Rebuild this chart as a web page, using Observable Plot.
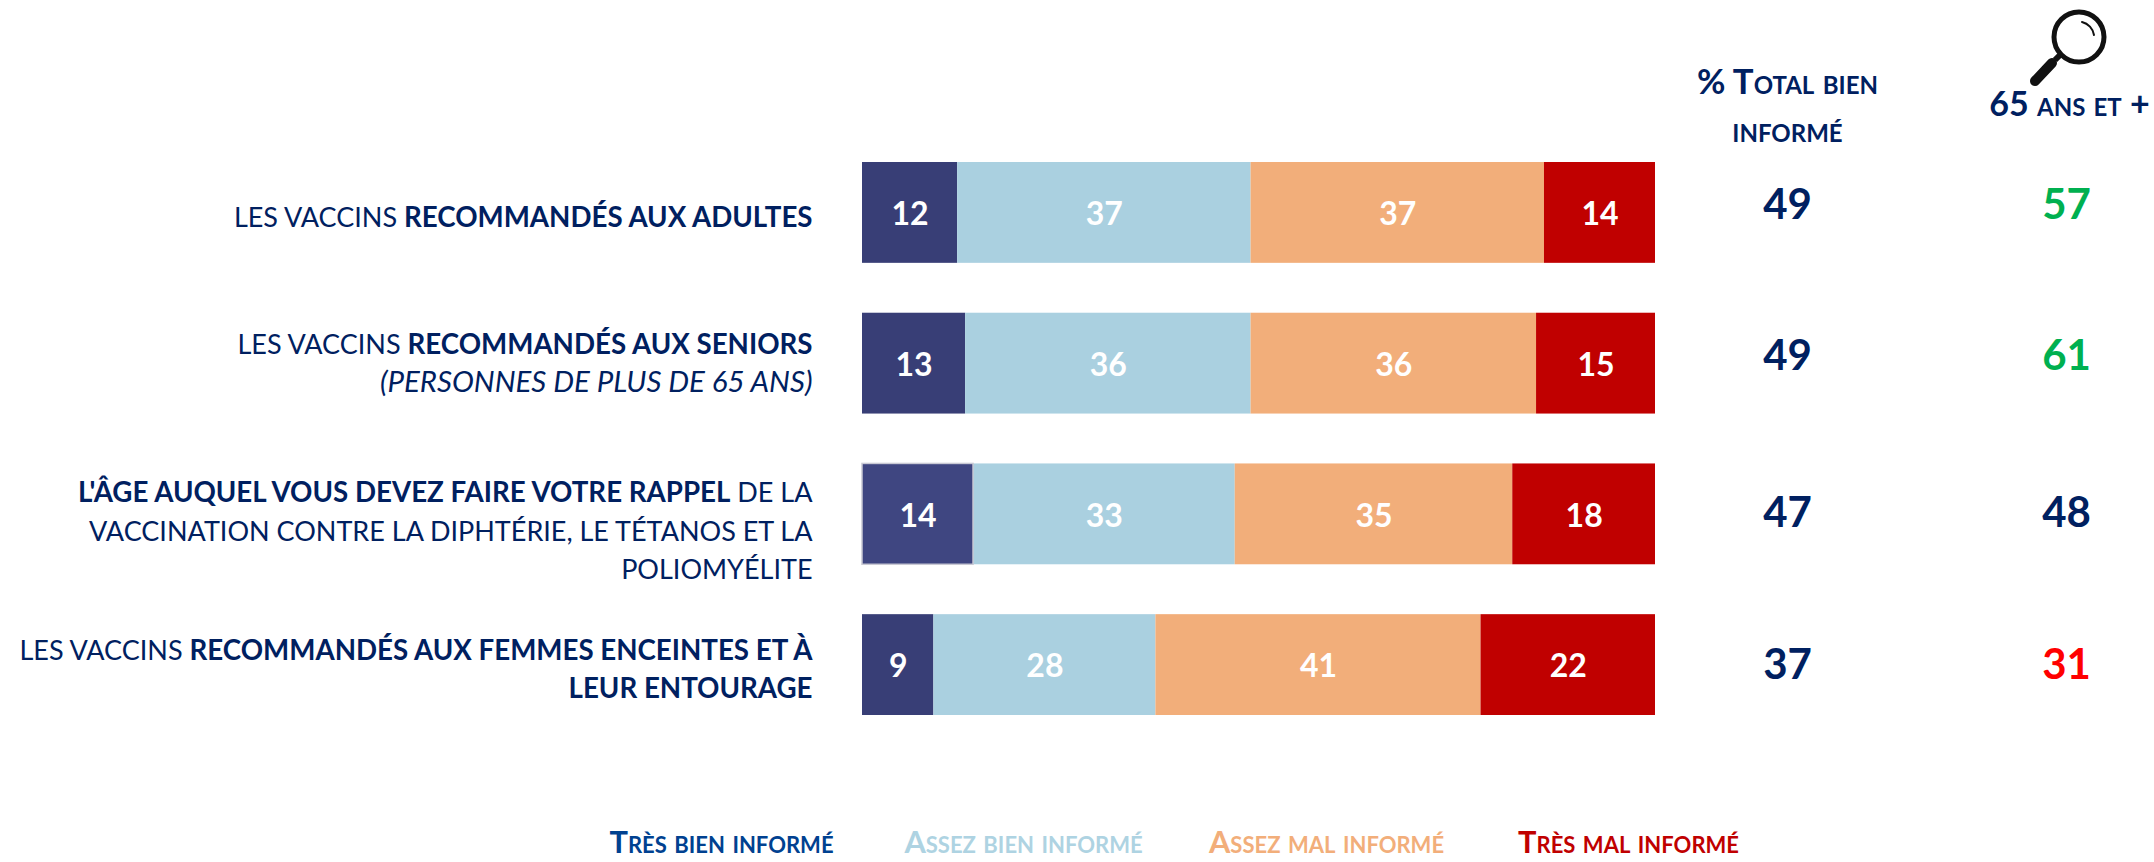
<!DOCTYPE html>
<html><head><meta charset="utf-8">
<script src="https://cdn.jsdelivr.net/npm/d3@7"></script>
<script src="https://cdn.jsdelivr.net/npm/@observablehq/plot@0.6"></script>
<style>html,body{margin:0;padding:0;background:#fff}svg{display:block}</style>
</head><body><div id="chart"></div>
<script>
const rows = ["adultes","seniors","rappel","femmes"];
const rowLabels = [
  "LES VACCINS **RECOMMANDÉS AUX ADULTES**",
  "LES VACCINS **RECOMMANDÉS AUX SENIORS**\n__(PERSONNES DE PLUS DE 65 ANS)__",
  "**L'ÂGE AUQUEL VOUS DEVEZ FAIRE VOTRE RAPPEL** DE LA\nVACCINATION CONTRE LA DIPHTÉRIE, LE TÉTANOS ET LA\nPOLIOMYÉLITE",
  "LES VACCINS **RECOMMANDÉS AUX FEMMES ENCEINTES ET À**\n**LEUR ENTOURAGE**"
];
const series = ["Très bien informé","Assez bien informé","Assez mal informé","Très mal informé"];
const seriesColors = ["#383e76","#aad0e0","#f2ae7a","#c00000"];
const legendColors = ["#004190","#aed3e2","#f2ae7a","#c00000"];
const tresBien = [12,13,14,9];
const assezBien = [37,36,33,28];
const assezMal = [37,36,35,41];
const tresMal = [14,15,18,22];
const totalBien = [49,49,47,37];
const seniors = [57,61,48,31];
const seniorColors = ["#00b050","#00b050","#002060","#ff0000"];

const navy = "#002060";
const font = "Lato";
const cells = rows.flatMap((r,i)=>[tresBien,assezBien,assezMal,tresMal].map((v,s)=>({row:r,series:series[s],value:v[i]})));
const colData = rows.map((r,i)=>({row:r,total:totalBien[i],senior:seniors[i],color:seniorColors[i]}));
const colDy = [-7,-7,-1,0];
const labelDy = [2,-3,14,2];
const legendX = [721,1023,1326,1628];

// turns **bold** and __italic__ segments into tspans
function richText(index, scales, values, dimensions, context, next){
  const g = next(index, scales, values, dimensions, context);
  g.querySelectorAll("text").forEach(t=>{
    const lines = t.querySelectorAll("tspan").length ? [...t.querySelectorAll("tspan")] : [t];
    lines.forEach(line=>{
      const s = line.textContent; line.textContent = "";
      s.split(/(\*\*.*?\*\*|__.*?__)/).filter(Boolean).forEach(part=>{
        const ts = document.createElementNS("http://www.w3.org/2000/svg","tspan");
        if(part.startsWith("**")){ts.setAttribute("font-weight","700");ts.setAttribute("font-size","27.7");ts.textContent=part.slice(2,-2);}
        else if(part.startsWith("__")){ts.setAttribute("font-style","italic");ts.setAttribute("font-size","29.4");ts.textContent=part.slice(2,-2);}
        else {ts.setAttribute("font-size","27");ts.textContent=part;}
        line.appendChild(ts);
      });
    });
  });
  return g;
}

const magnifier = () => {
  const g = d3.create("svg:g").attr("fill","none").attr("stroke","#111");
  g.append("circle").attr("cx",2079).attr("cy",37).attr("r",25).attr("stroke-width",5);
  g.append("path").attr("d","M2082 22 A16 16 0 0 1 2094 35").attr("stroke-width",2).attr("stroke-linecap","round");
  g.append("path").attr("d","M2060 55 L2055 60").attr("stroke-width",6);
  g.append("path").attr("d","M2052 63 L2035 81").attr("stroke-width",10).attr("stroke-linecap","round");
  return g.node();
};

const plot = Plot.plot({
  width:2154, height:862, margin:0,
  style:{background:"#fff",fontFamily:font},
  x:{domain:[0,100],range:[862,1655],axis:null},
  y:{domain:rows,range:[162,715],paddingInner:0.331,paddingOuter:0,round:false,axis:null},
  color:{domain:series,range:seriesColors},
  marks:[
    Plot.barX(cells,{x:"value",y:"row",fill:"series",inset:0}),
    Plot.barX(cells,{x:"value",y:"row",fill:d=>d.row==="rappel"&&d.series===series[0]?"#3f4681":"none",stroke:d=>d.row==="rappel"&&d.series===series[0]?"#c9c9d4":"none",strokeWidth:1.5,filter:d=>d.row==="rappel"&&d.series===series[0]}),
    Plot.text(cells,Plot.stackX({x:"value",y:"row",text:"value",fill:"white",fontSize:32,fontWeight:700,dy:2})),
    ...rows.map((r,i)=>Plot.text([rowLabels[i]],{
      x:0,y:()=>r,text:d=>d,dx:-50,dy:labelDy[i],textAnchor:"end",fill:navy,fontSize:27.6,lineHeight:1.38,render:richText
    })),
    ...rows.map((r,i)=>Plot.text([colData[i]],{x:100,y:"row",text:"total",dx:132,dy:colDy[i],fill:navy,fontSize:42,fontWeight:700})),
    ...rows.map((r,i)=>Plot.text([colData[i]],{x:100,y:"row",text:"senior",dx:411,dy:colDy[i],fill:d=>d.color,fontSize:42,fontWeight:700})),
    Plot.text(["% Total bien\ninformé"],{frameAnchor:"top-left",dx:1787,dy:60,text:d=>d,fill:navy,fontSize:34.7,fontWeight:700,lineHeight:1.37,fontVariant:"small-caps",textAnchor:"middle"}),
    Plot.text(["65 ans et +"],{frameAnchor:"top-left",dx:2069,dy:91,text:d=>d,fill:navy,fontSize:34,fontWeight:700,fontVariant:"small-caps",textAnchor:"middle"}),
    magnifier,
    ...series.map((s,i)=>Plot.text([s],{frameAnchor:"top-left",dx:legendX[i],dy:831,text:d=>d,fill:legendColors[i],fontSize:30.8,fontWeight:700,fontVariant:"small-caps",textAnchor:"middle"}))
  ]
});
document.getElementById("chart").appendChild(plot);
</script></body></html>
